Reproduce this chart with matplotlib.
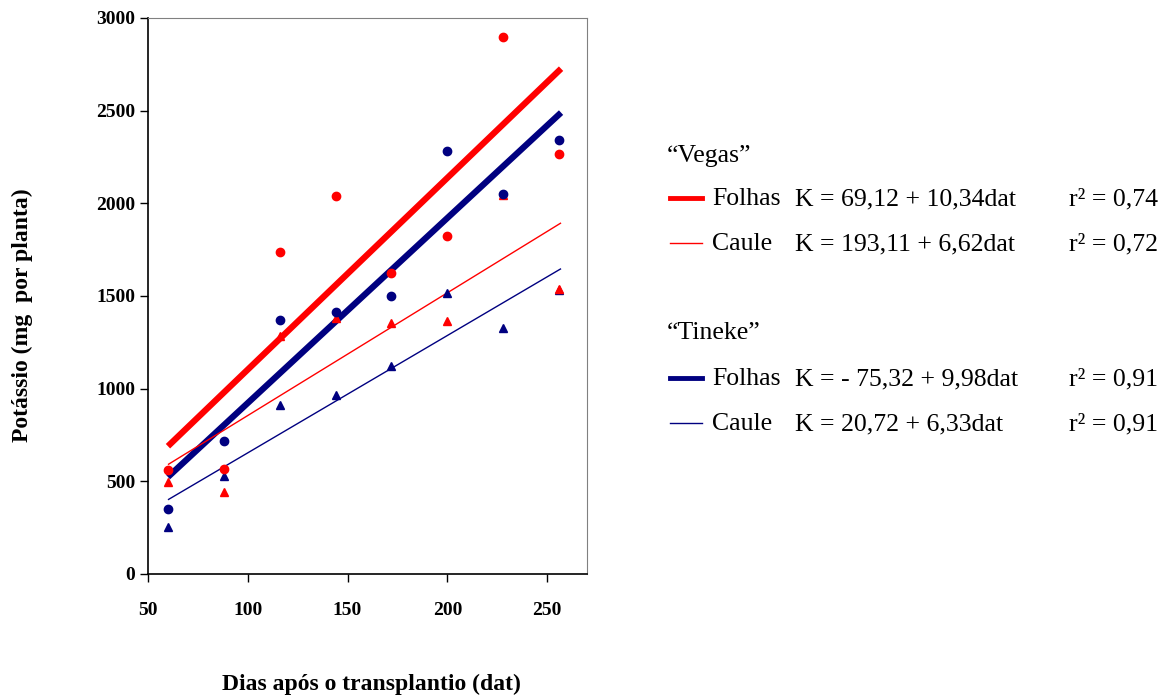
import numpy as np
import matplotlib
matplotlib.use("Agg")
import matplotlib.pyplot as plt

plt.rcParams['font.family'] = ['Liberation Serif', 'DejaVu Serif']

# dias apos o transplantio
dat = [60, 88, 116, 144, 172, 200, 228, 256]

# potassio (mg por planta)
vegas_folhas = [560, 565, 1740, 2040, 1625, 1825, 2900, 2265]
vegas_caule = [495, 440, 1285, 1380, 1355, 1365, 2045, 1540]
tineke_folhas = [350, 720, 1370, 1415, 1500, 2285, 2050, 2340]
tineke_caule = [255, 530, 910, 965, 1125, 1515, 1330, 1530]

# regressoes K = a + b*dat
coef = {
    'vegas_folhas': (69.12, 10.34),
    'vegas_caule': (193.11, 6.62),
    'tineke_folhas': (-75.32, 9.98),
    'tineke_caule': (20.72, 6.33),
}
r2 = {'vegas_folhas': '0,74', 'vegas_caule': '0,72',
      'tineke_folhas': '0,91', 'tineke_caule': '0,91'}
eq_txt = {'vegas_folhas': 'K = 69,12 + 10,34dat',
          'vegas_caule': 'K = 193,11 + 6,62dat',
          'tineke_folhas': 'K = - 75,32 + 9,98dat',
          'tineke_caule': 'K = 20,72 + 6,33dat'}

vermelho = '#ff0000'
azul = '#000080'

fig = plt.figure(figsize=(11.7, 7.0), dpi=100)
ax = fig.add_axes([148/1170, 1-574/700, (587-148)/1170, (574-18)/700])

xr = np.linspace(60, 257, 200)
estilo = {'vegas_folhas': (vermelho, 4.5), 'vegas_caule': (vermelho, 1.0),
          'tineke_folhas': (azul, 4.5), 'tineke_caule': (azul, 1.0)}
for k in ['vegas_folhas', 'tineke_folhas', 'vegas_caule', 'tineke_caule']:
    a, b = coef[k]
    cor, lw = estilo[k]
    ax.plot(xr, a + b*xr, color=cor, lw=lw, solid_capstyle='butt', zorder=2)

ax.plot(dat, tineke_caule, '^', color=azul, ms=5.5, ls='none', zorder=3)
ax.plot(dat, vegas_caule, '^', color=vermelho, ms=5.5, ls='none', zorder=3)
ax.plot(dat, tineke_folhas, 'o', color=azul, ms=6, ls='none', zorder=3)
ax.plot(dat, vegas_folhas, 'o', color=vermelho, ms=6, ls='none', zorder=3)

ax.set_xlim(50, 270)
ax.set_ylim(0, 3000)
ax.set_xticks([50, 100, 150, 200, 250])
ax.set_yticks(range(0, 3001, 500))
ax.tick_params(direction='out', length=6, width=1, labelsize=14)
ax.tick_params(axis='x', pad=14)
ax.tick_params(axis='y', pad=3)
for lab in ax.get_xticklabels() + ax.get_yticklabels():
    lab.set_fontweight('bold')
ax.spines['top'].set_color('#808080')
ax.spines['right'].set_color('#808080')
for s in ['left', 'bottom']:
    ax.spines[s].set_linewidth(1.2)

fig.text(371/1170, 1-684/700, 'Dias após o transplantio (dat)', ha='center',
         va='center', fontsize=17, fontweight='bold')
fig.text(22/1170, 1-315/700, 'Potássio (mg  por planta)', ha='center',
         va='center', rotation=90, fontsize=17, fontweight='bold')

# legenda montada a mao
def px(x, y):
    return x/1170, 1-y/700

fs = 18.5
fig.text(*px(667, 162), '\u201cVegas\u201d', fontsize=fs, va='baseline')
fig.text(*px(667, 339), '\u201cTineke\u201d', fontsize=fs, va='baseline')
linhas = [('vegas_folhas', 'Folhas', 198), ('vegas_caule', 'Caule', 243),
          ('tineke_folhas', 'Folhas', 378), ('tineke_caule', 'Caule', 423)]
for k, nome, y in linhas:
    cor, lw = estilo[k]
    x0, y0 = px(670, y)
    x1, _ = px(702, y)
    fig.add_artist(plt.Line2D([x0, x1], [y0, y0], color=cor,
                              lw=3.5 if lw > 2 else 1.0, transform=fig.transFigure))
    yb = y + 7
    fig.text(*px(712, yb), nome, fontsize=fs, va='baseline')
    fig.text(*px(795, yb), eq_txt[k], fontsize=fs, va='baseline')
    fig.text(*px(1069, yb), 'r\u00b2 = ' + r2[k], fontsize=fs, va='baseline')

fig.savefig('out.png', dpi=100)
